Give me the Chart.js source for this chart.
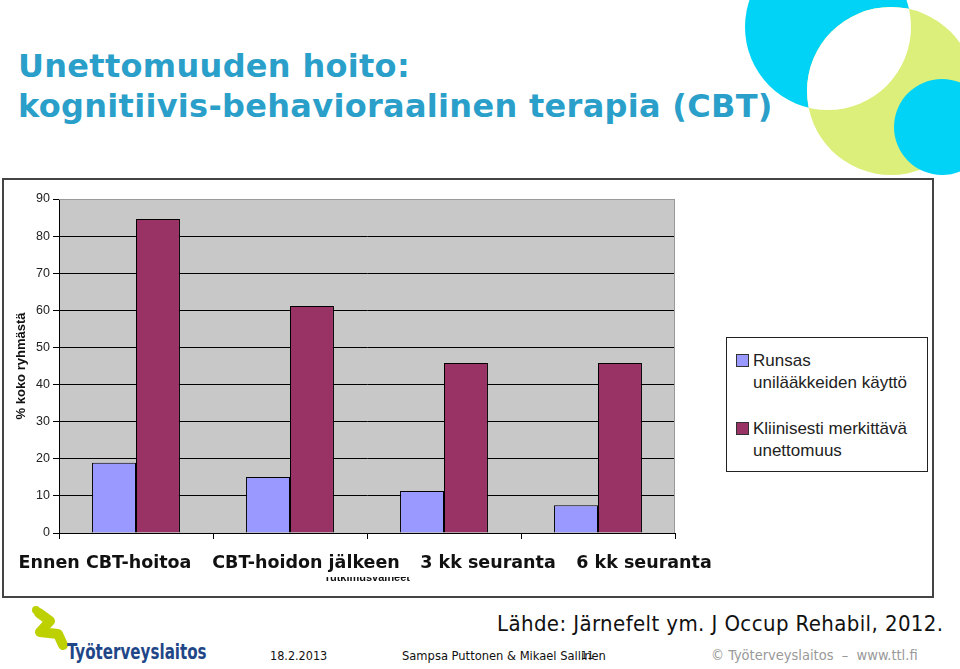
<!DOCTYPE html>
<html>
<head>
<meta charset="utf-8">
<script src="https://cdn.jsdelivr.net/npm/chart.js@4.4.1/dist/chart.umd.min.js"></script>
<style>
  body { margin: 0; background: #fff; }
  #page { position: relative; width: 960px; height: 669px; overflow: hidden; font-family: "DejaVu Sans", sans-serif; }
  .abs { position: absolute; }
  #title { left: 18px; top: 46px; font-size: 32px; font-weight: bold; color: #2a9fc9; line-height: 40px; white-space: nowrap; letter-spacing: 0.3px; }
  #frame { left: 2px; top: 178px; width: 928px; height: 416px; border: 2px solid #444; background: #fff; }
  #chart { left: 4px; top: 180px; }
  #legend { left: 726px; top: 337px; width: 200px; height: 133px; border: 1px solid #222; background: #fff;
            font-family: "Liberation Sans", Arial, sans-serif; font-size: 17px; color: #222; line-height: 22px; }
  .item { position: absolute; left: 26px; white-space: pre-line; }
  .sq { position: absolute; left: -17px; top: 4px; width: 11px; height: 11px; border: 1px solid #333; }
  .foot { font-family: "DejaVu Sans Condensed", "DejaVu Sans", sans-serif; white-space: nowrap; }
</style>
</head>
<body>
<div id="page">
  <svg class="abs" style="left:0;top:0" width="960" height="200">
    <defs><clipPath id="cyanClip"><circle cx="828" cy="27" r="83"/></clipPath></defs>
    <circle cx="828" cy="27" r="83" fill="#00d3f5"/>
    <circle cx="891" cy="91" r="84" fill="#dbef7a"/>
    <circle cx="891" cy="91" r="84" fill="#fff" clip-path="url(#cyanClip)"/>
    <circle cx="942" cy="127" r="48" fill="#00d3f5"/>
  </svg>

  <div id="title" class="abs">Unettomuuden hoito:<br>kognitiivis-behavioraalinen terapia (CBT)</div>

  <div id="frame" class="abs"></div>
  <canvas id="chart" class="abs" width="926" height="414"></canvas>
  <div id="legend" class="abs"></div>

  <div class="abs foot" style="left:497px;top:611px;font-size:22px;letter-spacing:0.4px;color:#111;">Lähde: Järnefelt ym. J Occup Rehabil, 2012.</div>
  <div class="abs foot" style="left:270px;top:648px;font-size:12.5px;color:#111;">18.2.2013</div>
  <div class="abs foot" style="left:402px;top:648px;font-size:12.8px;color:#111;">Sampsa Puttonen &amp; Mikael Sallinen</div>
  <div class="abs foot" style="left:581px;top:649px;font-size:11px;color:#111;">11</div>
  <div class="abs foot" style="left:711px;top:647px;font-size:14.5px;color:#999;">© Työterveyslaitos &nbsp;–&nbsp; www.ttl.fi</div>

  <svg class="abs" style="left:0;top:600px" width="80" height="50">
    <polyline points="39,13 50,21 40,32 58,34 63,45" fill="none" stroke="#bdd000" stroke-width="10" stroke-linecap="round" stroke-linejoin="round"/>
    <circle cx="36" cy="10" r="4" fill="#bdd000"/>
  </svg>
  <div class="abs foot" style="left:67px;top:640px;font-size:21px;font-weight:bold;color:#1f4788;transform:scaleX(0.8);transform-origin:left top;">Työterveyslaitos</div>
</div>

<script>
const categories = ['Ennen CBT-hoitoa', 'CBT-hoidon jälkeen', '3 kk seuranta', '6 kk seuranta'];
const sleepMeds = [18.9, 15.1, 11.3, 7.5];
const insomnia = [84.6, 61.2, 45.8, 45.8];
const seriesLabels = ['Runsas\nunilääkkeiden käyttö', 'Kliinisesti merkittävä\nunettomuus'];
const yTitle = '% koko ryhmästä';
const xTitle = 'Tutkimusvaiheet';

// category labels in the original are shifted a bit from the tick centres
const labelShift = [-31, 16, 44, 46];

const plotBackground = {
    id: 'plotBackground',
    beforeDraw(chart) {
        const {ctx, chartArea: a} = chart;
        ctx.save();
        ctx.fillStyle = '#c8c8c8';
        ctx.fillRect(a.left, a.top, a.right - a.left, a.bottom - a.top);
        ctx.restore();
    },
    afterDatasetsDraw(chart) {
        const {ctx, chartArea: a} = chart;
        ctx.save();
        ctx.strokeStyle = '#999';
        ctx.lineWidth = 1;
        ctx.beginPath();
        ctx.moveTo(a.left, a.top + 0.5);
        ctx.lineTo(a.right - 0.5, a.top + 0.5);
        ctx.lineTo(a.right - 0.5, a.bottom);
        ctx.stroke();
        ctx.restore();
    }
};

const categoryLabels = {
    id: 'categoryLabels',
    afterDraw(chart) {
        const {ctx} = chart;
        const xs = chart.scales.x;
        const y = xs.top + 22;
        ctx.save();
        ctx.font = 'bold 17.5px "DejaVu Sans"';
        ctx.textAlign = 'center';
        ctx.textBaseline = 'top';
        ctx.fillStyle = '#fff';
        ctx.fillRect(xs.left - 45, y - 2, xs.right - xs.left + 90, 24);
        ctx.fillStyle = '#111';
        categories.forEach((c, i) => {
            ctx.fillText(c, xs.getPixelForValue(i) + labelShift[i], y);
        });
        ctx.restore();
    }
};

const chart = new Chart(document.getElementById('chart'), {
    type: 'bar',
    data: {
        labels: categories,
        datasets: [{
            label: seriesLabels[0],
            data: sleepMeds,
            backgroundColor: '#9999ff',
            borderColor: '#000',
            borderWidth: 1
        }, {
            label: seriesLabels[1],
            data: insomnia,
            backgroundColor: '#993366',
            borderColor: '#000',
            borderWidth: 1
        }]
    },
    options: {
        responsive: false,
        animation: false,
        layout: { padding: { top: 19, right: 255, left: 0, bottom: 0 } },
        categoryPercentage: 0.571,
        barPercentage: 1,
        plugins: {
            legend: { display: false },
            tooltip: { enabled: false }
        },
        scales: {
            x: {
                afterFit(scale) { scale.height = 61; },
                grid: { drawOnChartArea: false, color: '#000', tickLength: 6 },
                border: { color: '#000' },
                ticks: { display: false },
                title: {
                    display: true,
                    text: xTitle,
                    color: '#111',
                    font: { family: 'Liberation Sans', size: 11, weight: 'bold' },
                    padding: { top: 0, bottom: 9 }
                }
            },
            y: {
                min: 0,
                max: 90,
                afterFit(scale) { scale.width = 55; },
                grid: {
                    color: (c) => c.tick && c.tick.value === 90 ? '#999' : '#000',
                    tickColor: '#000',
                    tickLength: 6
                },
                border: { color: '#000' },
                ticks: {
                    stepSize: 10,
                    padding: 3,
                    color: '#222',
                    font: { family: 'Liberation Sans', size: 12.5 }
                },
                title: {
                    display: true,
                    text: yTitle,
                    color: '#111',
                    font: { family: 'Liberation Sans', size: 13, weight: 'bold' },
                    padding: { top: 10, bottom: 0 }
                }
            }
        }
    },
    plugins: [plotBackground, categoryLabels]
});

// HTML legend built from the datasets (labels wrap over two lines)
const legend = document.getElementById('legend');
const itemTops = [12, 80];
chart.data.datasets.forEach((ds, i) => {
    const item = document.createElement('div');
    item.className = 'item';
    item.style.top = itemTops[i] + 'px';
    const sq = document.createElement('span');
    sq.className = 'sq';
    sq.style.background = ds.backgroundColor;
    item.appendChild(sq);
    item.appendChild(document.createTextNode(ds.label));
    legend.appendChild(item);
});
</script>
</body>
</html>
